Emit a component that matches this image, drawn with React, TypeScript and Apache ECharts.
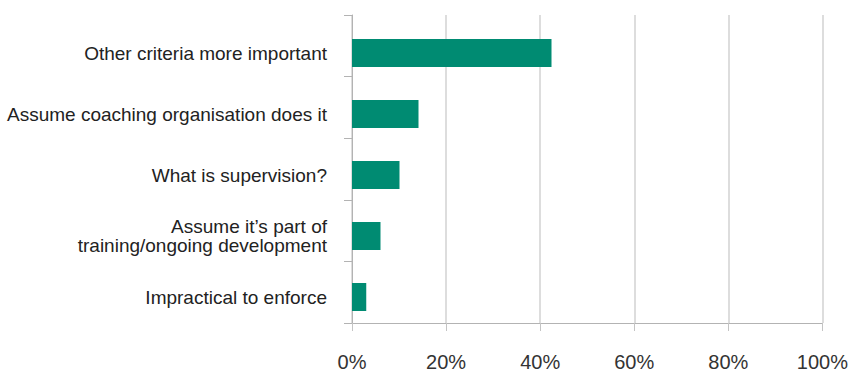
import React, { useEffect, useRef } from "react";
import * as echarts from "echarts";

const categories = [
  "Other criteria more important",
  "Assume coaching organisation does it",
  "What is supervision?",
  "Assume it\u2019s part of\ntraining/ongoing development",
  "Impractical to enforce",
];
const values = [42, 14, 10, 6, 3];
const xTicks = [0, 20, 40, 60, 80, 100];

export default function App() {
  const ref = useRef<HTMLDivElement>(null);
  useEffect(() => {
    if (!ref.current) return;
    const chart = echarts.init(ref.current, null, { renderer: "svg" });
    const font = "'Liberation Sans', Arial, Helvetica, sans-serif";
    chart.setOption({
      animation: false,
      backgroundColor: "#ffffff",
      grid: [
        { left: 352, right: 24, top: 15, bottom: 37, containLabel: false },
        { left: 352, right: 24, top: 22.5, bottom: 44.5, containLabel: false },
      ],
      xAxis: [
        {
          gridIndex: 0,
          type: "value",
          min: xTicks[0],
          max: xTicks[xTicks.length - 1],
          interval: 20,
          axisLine: { show: true, lineStyle: { color: "#b3b3b3", width: 1 } },
          axisTick: { show: true, length: 8, lineStyle: { color: "#c4c4c4", width: 1 } },
          splitLine: { show: true, lineStyle: { color: "#d2d2d2", width: 1.5 } },
          axisLabel: {
            formatter: "{value}%",
            fontSize: 20,
            color: "#333333",
            fontFamily: font,
            margin: 29,
          },
        },
        {
          gridIndex: 1,
          type: "value",
          min: 0,
          max: 100,
          show: false,
        },
      ],
      yAxis: [
        {
          gridIndex: 0,
          type: "category",
          data: categories,
          inverse: true,
          axisLine: { show: true, lineStyle: { color: "#b3b3b3", width: 1 } },
          axisTick: { show: true, length: 8, lineStyle: { color: "#b3b3b3", width: 1 } },
          axisLabel: { show: false },
          splitLine: { show: false },
        },
        {
          gridIndex: 1,
          type: "category",
          data: categories,
          inverse: true,
          axisLine: { show: false },
          axisTick: { show: false },
          splitLine: { show: false },
          axisLabel: {
            fontSize: 19,
            color: "#222222",
            fontFamily: font,
            margin: 25,
            lineHeight: 19,
            align: "right",
          },
        },
      ],
      series: [
        {
          type: "bar",
          xAxisIndex: 1,
          yAxisIndex: 1,
          data: values,
          barWidth: 28,
          itemStyle: { color: "#008B72" },
        },
      ],
    });
    return () => chart.dispose();
  }, []);
  return (
    <div
      ref={ref}
      style={{ width: 851, height: 372, position: "absolute", left: 0, top: 0, overflow: "hidden" }}
    />
  );
}
